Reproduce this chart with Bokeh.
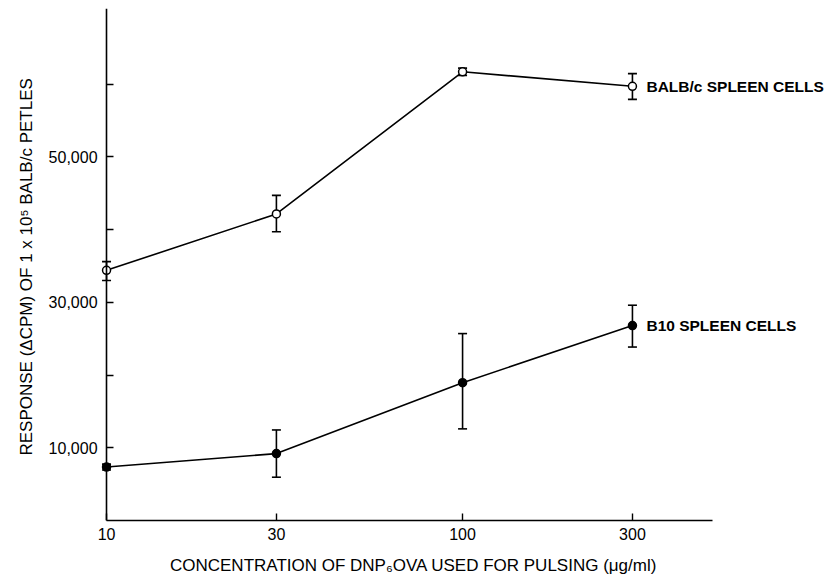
from bokeh.plotting import figure
from bokeh.models import (ColumnDataSource, Whisker, TeeHead, FixedTicker,
                          NumeralTickFormatter, Label, Range1d)
from bokeh.embed import file_html
from bokeh.resources import INLINE

# data
conc = [10, 30, 100, 300]
balb = [34400, 42150, 61700, 59700]
balb_lo = [33000, 39700, 61200, 57900]
balb_hi = [35600, 44700, 62200, 61450]
b10 = [7350, 9200, 18950, 26800]
b10_lo = [6950, 5950, 12600, 23850]
b10_hi = [7750, 12450, 25700, 29600]
y_ticks = [10000, 20000, 30000, 40000, 50000, 60000]
y_labels = {20000: "", 40000: "", 60000: ""}
x_ticks = [10, 30, 100, 300]
x_axis_bounds = (10, 504)

FONT = "Liberation Sans"

p = figure(width=831, height=581, x_axis_type="log",
           x_range=Range1d(5.037, 1087), y_range=Range1d(0, 70400),
           output_backend="svg", toolbar_location=None,
           min_border_left=0, min_border_right=0,
           min_border_top=8, min_border_bottom=61)
p.outline_line_color = None
p.grid.visible = False
p.background_fill_color = "white"

for ax in (p.xaxis[0], p.yaxis[0]):
    ax.axis_line_width = 1.6
    ax.major_tick_line_width = 1.4
    ax.major_tick_in = 7
    ax.major_tick_out = 0
    ax.minor_tick_line_color = None
    ax.major_label_text_font = FONT
    ax.major_label_text_font_size = "16px"
    ax.major_label_text_font_style = "normal"
    ax.axis_label_text_font = FONT
    ax.axis_label_text_font_size = "17px"
    ax.axis_label_text_font_style = "normal"
    ax.axis_label_text_color = "black"
    ax.major_label_text_color = "black"
    ax.axis_line_color = "black"
    ax.major_tick_line_color = "black"

p.xaxis.ticker = FixedTicker(ticks=x_ticks, minor_ticks=[])
p.xaxis.formatter = NumeralTickFormatter(format="0")
p.xaxis.bounds = x_axis_bounds
p.xaxis.major_label_standoff = 7
p.xaxis.axis_label = "CONCENTRATION OF DNP\u2086OVA USED FOR PULSING  (\u03bcg/ml)"
p.xaxis.axis_label_standoff = 13

p.yaxis.ticker = FixedTicker(ticks=y_ticks, minor_ticks=[])
p.yaxis.formatter = NumeralTickFormatter(format="0,0")
p.yaxis.major_label_overrides = y_labels
p.yaxis.fixed_location = conc[0]
p.yaxis.major_label_standoff = 9
p.yaxis.axis_label = "RESPONSE (\u0394CPM) OF 1 x 10\u2075 BALB/c  PETLES"
p.yaxis.axis_label_standoff = 10

s1 = ColumnDataSource(dict(x=conc, y=balb, lo=balb_lo, hi=balb_hi))
s2 = ColumnDataSource(dict(x=conc, y=b10, lo=b10_lo, hi=b10_hi))

for src in (s1, s2):
    p.add_layout(Whisker(base="x", lower="lo", upper="hi", source=src,
                         line_width=1.6, line_color="black",
                         upper_head=TeeHead(size=9, line_width=1.6),
                         lower_head=TeeHead(size=9, line_width=1.6)))

p.line("x", "y", source=s1, line_width=1.6, color="black")
p.line("x", "y", source=s2, line_width=1.6, color="black")
p.scatter("x", "y", source=s1, size=8, fill_color="white",
          line_color="black", line_width=1.5)
p.scatter("x", "y", source=s2, size=8, fill_color="black",
          line_color="black", line_width=1.5)

p.add_layout(Label(x=conc[-1], y=balb[-1], x_offset=14, y_offset=0,
                   text="BALB/c SPLEEN CELLS", text_font=FONT,
                   text_font_size="15.5px", text_font_style="bold",
                   text_color="black", text_baseline="middle"))
p.add_layout(Label(x=conc[-1], y=b10[-1], x_offset=14, y_offset=0,
                   text="B10 SPLEEN CELLS", text_font=FONT,
                   text_font_size="15.5px", text_font_style="bold",
                   text_color="black", text_baseline="middle"))

open("out.html", "w").write(file_html(p, INLINE))
